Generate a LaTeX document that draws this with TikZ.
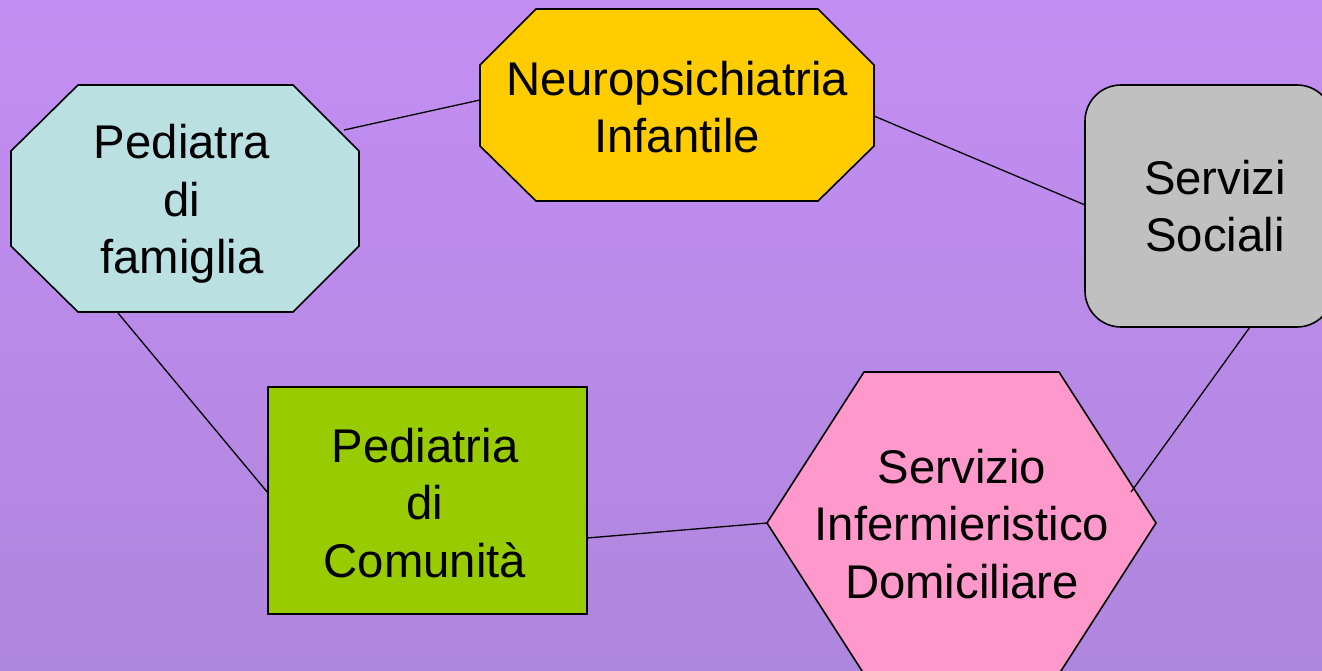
\documentclass[tikz,border=0pt]{standalone}
\usepackage{fontspec}
\setmainfont{Liberation Sans}
\definecolor{bgtop}{HTML}{C38EF3}
\definecolor{bgbot}{HTML}{AF86DD}
\definecolor{pfcol}{HTML}{BAE0E2}
\definecolor{npcol}{HTML}{FFCC00}
\definecolor{sscol}{HTML}{C0C0C0}
\definecolor{pccol}{HTML}{99CC00}
\definecolor{sicol}{HTML}{FF99CC}
\begin{document}
\begin{tikzpicture}[x=1pt,y=-1pt,
  shapeline/.style={draw=black, line width=1.6pt, line join=miter},
  boxtext/.style={align=center, inner sep=0pt, font=\fontsize{47.3}{57.5}\selectfont},
  link/.style={draw=black, line width=1.3pt}]
\useasboundingbox (0,0) rectangle (1322,671);
\begin{scope}
\clip (0,0) rectangle (1322,671);
\shade[top color=bgtop, bottom color=bgbot] (0,0) rectangle (1322,671);
% shapes
\draw[shapeline, fill=pfcol] (78,85) -- (293,85) -- (359,151) -- (359,246) -- (293,312) -- (78,312) -- (11,246) -- (11,151) -- cycle;
\draw[shapeline, fill=npcol] (536,9) -- (818,9) -- (874,65) -- (874,146) -- (818,201) -- (536,201) -- (480,146) -- (480,65) -- cycle;
\draw[shapeline, fill=sscol, rounded corners=36pt] (1085,85) rectangle (1333,327);
\draw[shapeline, fill=pccol] (268,387) rectangle (587,614);
\draw[shapeline, fill=sicol] (767,523) -- (864,372) -- (1059,372) -- (1156,523) -- (1059,674) -- (864,674) -- cycle;
% texts
\node[boxtext] (pf) at (182,204) {Pediatra\\di\\famiglia};
\node[boxtext] (np) at (677,107) {Neuropsichiatria\\Infantile};
\node[boxtext] (ss) at (1215,206) {Servizi\\Sociali};
\node[boxtext] (pc) at (425,503) {Pediatria\\di\\Comunità};
\node[boxtext] (si) at (962,524) {Servizio\\Infermieristico\\Domiciliare};
% connector ends on the shape borders
\coordinate (pf-a) at (344,130);
\coordinate (np-a) at (480,100);
\coordinate (np-b) at (874,116);
\coordinate (ss-a) at (1085,205);
\coordinate (pf-b) at (118,313);
\coordinate (pc-a) at (268,493);
\coordinate (pc-b) at (587,538);
\coordinate (si-a) at (767,523);
\coordinate (ss-b) at (1250,327);
\coordinate (si-b) at (1131,492);
\draw[link] (pf-a) -- (np-a);
\draw[link] (np-b) -- (ss-a);
\draw[link] (pf-b) -- (pc-a);
\draw[link] (pc-b) -- (si-a);
\draw[link] (ss-b) -- (si-b);
\end{scope}
\end{tikzpicture}
\end{document}
